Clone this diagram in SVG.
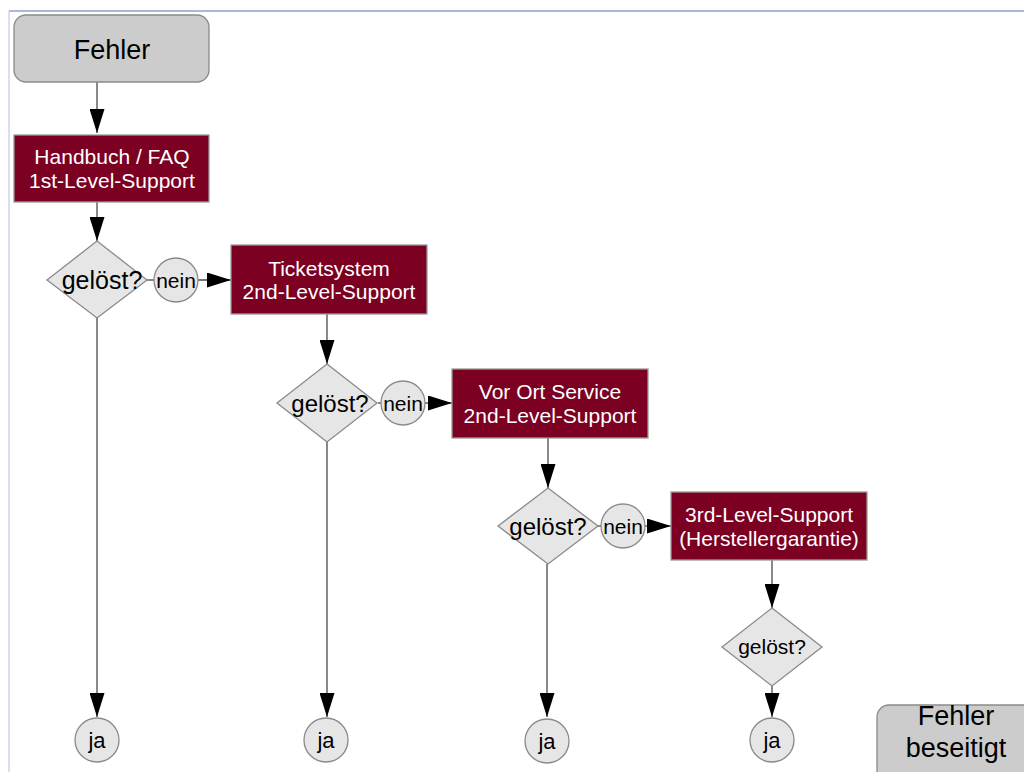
<svg xmlns="http://www.w3.org/2000/svg" width="1024" height="772" viewBox="0 0 1024 772">
<style>
text{font-family:"Liberation Sans",Arial,sans-serif;text-anchor:middle}
.term{fill:#cccccc;stroke:#8a8a8a;stroke-width:1.3}
.proc{fill:#7b0021;stroke:#9a9a9a;stroke-width:1.3}
.dec{fill:#e6e6e6;stroke:#8a8a8a;stroke-width:1.3}
.lbl{fill:#e6e6e6;stroke:#8a8a8a;stroke-width:1.3}
.tw{fill:#ffffff;font-size:21px}
.tb{fill:#000000;font-size:21px}
.tja{fill:#000000;font-size:22px}
.tbig{fill:#000000;font-size:27px}
.tdec{fill:#000000;font-size:24px}
.con{fill:none;stroke:#4a4a4a;stroke-width:1.3}
</style>
<defs>
<marker id="ah" viewBox="0 0 24 15" refX="24" refY="7.5" markerWidth="24" markerHeight="15" markerUnits="userSpaceOnUse" orient="auto">
<path d="M0,0 L24,7.5 L0,15 Z" fill="#000"/>
</marker>
</defs>
<rect x="0" y="0" width="1024" height="772" fill="#ffffff"/>
<line x1="9" y1="11" x2="1024" y2="11" stroke="#8da0c8" stroke-width="1.5"/>
<line x1="9" y1="11" x2="9" y2="772" stroke="#b4c0dc" stroke-width="1"/>

<g id="connectors">
<line class="con" x1="97" y1="82" x2="97" y2="133" marker-end="url(#ah)"/>
<line class="con" x1="97" y1="202" x2="97" y2="241" marker-end="url(#ah)"/>
<line class="con" x1="147" y1="280" x2="154" y2="280"/>
<line class="con" x1="198" y1="280" x2="231" y2="280" marker-end="url(#ah)"/>
<line class="con" x1="97" y1="318" x2="97" y2="717" marker-end="url(#ah)"/>
<line class="con" x1="327" y1="314" x2="327" y2="364" marker-end="url(#ah)"/>
<line class="con" x1="378" y1="403" x2="381" y2="403"/>
<line class="con" x1="425" y1="403" x2="452" y2="403" marker-end="url(#ah)"/>
<line class="con" x1="327" y1="442" x2="327" y2="717" marker-end="url(#ah)"/>
<line class="con" x1="548" y1="438" x2="548" y2="488" marker-end="url(#ah)"/>
<line class="con" x1="598" y1="526" x2="601" y2="526"/>
<line class="con" x1="645" y1="526" x2="671" y2="526" marker-end="url(#ah)"/>
<line class="con" x1="547" y1="564" x2="547" y2="717" marker-end="url(#ah)"/>
<line class="con" x1="772" y1="560" x2="772" y2="608" marker-end="url(#ah)"/>
<line class="con" x1="772" y1="686" x2="772" y2="717" marker-end="url(#ah)"/>
</g>

<g id="start">
<rect class="term" x="14" y="15" width="195" height="67" rx="12"/>
<text class="tbig" x="112" y="59">Fehler</text>
</g>
<g id="level1">
<rect class="proc" x="14" y="135" width="195" height="67"/>
<text class="tw" x="112" y="164">Handbuch / FAQ</text>
<text class="tw" x="112" y="188">1st-Level-Support</text>
</g>
<g id="dec1">
<polygon class="dec" points="97,241 147,280 97,318 47,280"/>
<text class="tdec" x="102" y="289" style="font-size:25px">gelöst?</text>
</g>
<g id="nein1">
<circle class="lbl" cx="176" cy="280" r="22"/>
<text class="tb" x="176" y="287.5">nein</text>
</g>
<g id="level2a">
<rect class="proc" x="231" y="245" width="196" height="69"/>
<text class="tw" x="329" y="276">Ticketsystem</text>
<text class="tw" x="329" y="299">2nd-Level-Support</text>
</g>
<g id="dec2">
<polygon class="dec" points="327,364 377,403 327,442 277,403"/>
<text class="tdec" x="330" y="412">gelöst?</text>
</g>
<g id="nein2">
<circle class="lbl" cx="403" cy="403" r="22"/>
<text class="tb" x="403" y="410.5">nein</text>
</g>
<g id="level2b">
<rect class="proc" x="452" y="369" width="196" height="69"/>
<text class="tw" x="550" y="399">Vor Ort Service</text>
<text class="tw" x="550" y="423">2nd-Level-Support</text>
</g>
<g id="dec3">
<polygon class="dec" points="548,488 598,526 548,564 498,526"/>
<text class="tdec" x="548" y="535">gelöst?</text>
</g>
<g id="nein3">
<circle class="lbl" cx="623" cy="526" r="22"/>
<text class="tb" x="623" y="533.5">nein</text>
</g>
<g id="level3">
<rect class="proc" x="671" y="492" width="196" height="68"/>
<text class="tw" x="769" y="522">3rd-Level-Support</text>
<text class="tw" x="769" y="546">(Herstellergarantie)</text>
</g>
<g id="dec4">
<polygon class="dec" points="772,608 822,647 772,686 722,647"/>
<text class="tb" x="772" y="654">gelöst?</text>
</g>
<g id="ja1">
<circle class="lbl" cx="97" cy="740" r="22"/>
<text class="tja" x="97" y="748">ja</text>
</g>
<g id="ja2">
<circle class="lbl" cx="326" cy="740" r="22"/>
<text class="tja" x="326" y="748">ja</text>
</g>
<g id="ja3">
<circle class="lbl" cx="547" cy="741" r="22"/>
<text class="tja" x="547" y="749">ja</text>
</g>
<g id="ja4">
<circle class="lbl" cx="772" cy="740" r="22"/>
<text class="tja" x="772" y="748">ja</text>
</g>
<g id="end">
<rect class="term" x="877" y="705" width="160" height="80" rx="12"/>
<text class="tbig" x="956" y="725">Fehler</text>
<text class="tbig" x="956" y="757">beseitigt</text>
</g>
</svg>
